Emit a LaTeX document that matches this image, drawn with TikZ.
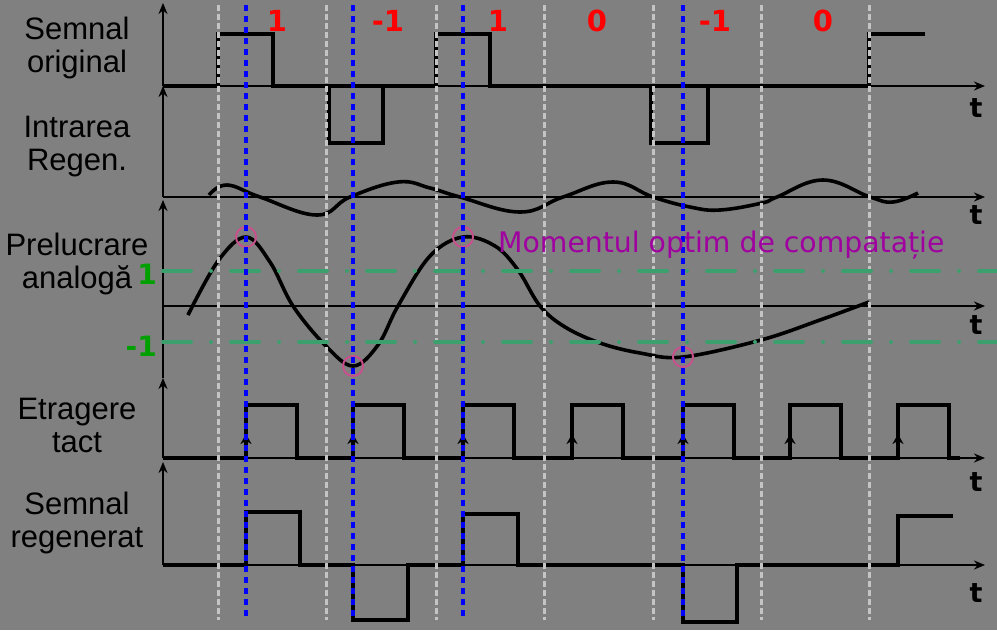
\documentclass[tikz,border=0pt]{standalone}
\usepackage{fontspec}
\setmainfont{Liberation Sans}
\newfontfamily\vera{DejaVu Sans}
\usetikzlibrary{arrows.meta}

\definecolor{bggray}{HTML}{808080}
\definecolor{tickgray}{HTML}{C4C4C4}
\definecolor{levelgreen}{HTML}{3C9F6E}
\definecolor{lvltext}{HTML}{00A000}
\definecolor{optpink}{HTML}{C8508C}
\definecolor{optpurple}{HTML}{A000A0}

\begin{document}
\begin{tikzpicture}[x=1pt,y=-1pt,>={Stealth[length=11pt,width=9pt]},line join=miter]
          \tikzstyle{signal}=[line width=3.6pt,black]
          \tikzstyle{axis}=[line width=2.8pt,black,->]
          \tikzstyle{grid}=[line width=3pt,tickgray,dash pattern=on 6pt off 3pt]
          \tikzstyle{sample}=[line width=3.6pt,blue,dash pattern=on 6pt off 5pt]
          \tikzstyle{level}=[line width=4pt,levelgreen,line cap=round,dash pattern=on 28pt off 20pt on 0pt off 20pt]
          \tikzstyle{signame}=[font=\fontsize{31}{32.5}\selectfont,align=center,anchor=base,text=black]
          \tikzstyle{bitval}=[font=\vera\bfseries\fontsize{29}{29}\selectfont,text=red,anchor=base]
          \tikzstyle{lvlval}=[font=\vera\bfseries\fontsize{28}{28}\selectfont,text=lvltext,anchor=east,inner sep=0pt]
          \tikzstyle{tlabel}=[font=\vera\bfseries\fontsize{27}{27}\selectfont,anchor=base]
          \tikzstyle{optim}=[draw=optpink,line width=2pt,circle,minimum size=20pt,inner sep=0pt]

          \path[use as bounding box,fill=bggray] (0,0) rectangle (997,630);

          % axes
          \foreach \y/\n in {86/1,197/2,306/3,458/4,565/5} {
            \coordinate (o\n) at (163,\y);
            \coordinate (e\n) at (985,\y);
            \draw[axis] (o\n) -- (e\n);
          }
          \foreach \a/\b in {86/3,197/86,378/200,458/378,565/462}
            \draw[axis,line width=2pt] (163,\a) -- (163,\b);

          % signals
          \draw[signal] (163,86) -- (218,86) |- (273,34) |- (436,86) |- (490,34) |- (869,86) |- (925,34);
          \draw[signal] (329,86) |- (383,143) -- (383,86);
          \draw[signal] (651,86) |- (708,143) -- (708,86);
          \draw[signal] plot[smooth,tension=0.7] coordinates {
            (209,195) (227,185) (260,197) (317,215) (350,197) (398,182) (430,188)
            (460,197) (520,212) (563,197) (613,182) (653,197) (690,207) (720,210)
            (762,203) (777,197) (823,180) (870,197) (893,202) (918,193)};
          \draw[signal] plot[smooth,tension=0.6] coordinates {
            (188,315) (218,261) (246,237) (270,262) (293,306) (325,345) (353,366)
            (378,345) (398,306) (430,256) (463,237) (495,246) (518,270) (540,306)
            (565,327) (600,343) (640,353) (683,357) (761,340) (820,320) (869,302)};
          \draw[signal] (163,458) foreach \c in {246,353,463,572,683,790,898} {
            -- (\c,458) -- (\c,405) -- ++(51,0) -- ++(0,53) } -- (960,458);
          \foreach \c in {246,353,463,572,683,790,898}
            \draw[-{Stealth[length=10pt,width=11pt]},line width=1.6pt] (\c,452) -- (\c,434);
          \draw[signal] (163,565) -- (246,565) |- (300,512) |- (353,565) |- (408,620) |- (463,565)
            |- (518,514) |- (683,565) |- (737,622) |- (898,565) |- (953,516);

          % bit borders
          \foreach \x in {218,326,436,544,653,761,869}
            \draw[grid] (\x,5) -- (\x,620);

          % decision levels
          \draw[level] (163,271) -- (997,271);
          \draw[level] (163,342) -- (997,342);
          \node[lvlval] (l1) at (157,274) {1};
          \node[lvlval] (l2) at (157,346) {-1};

          % sampling instants
          \foreach \x/\y/\n in {246/237/1,353/366/2,463/237/3,683/357/4}
            \node[optim] (s\n) at (\x,\y) {};
          \foreach \x in {246,353,463,683}
            \draw[sample] (\x,5) -- (\x,620);
          \node[anchor=base west,font=\vera\fontsize{28.3}{28.3}\selectfont,text=optpurple,inner sep=0pt] (opt) at (498,252) {Momentul optim de compatație};

          % bits
          \node[bitval] (b1) at (277,31) {1};
          \node[bitval] (b2) at (388,31) {-1};
          \node[bitval] (b3) at (498,31) {1};
          \node[bitval] (b4) at (597,31) {0};
          \node[bitval] (b5) at (715,31) {-1};
          \node[bitval] (b6) at (823,31) {0};

          % time labels
          \foreach \y/\n in {117/1,224/2,334/3,491/4,602/5}
            \node[tlabel] (t\n) at (976,\y) {t};

          % row names
          \node[signame] (orig) at (77,72) {Semnal\\original};
          \node[signame] (intr) at (77,170) {Intrarea\\Regen.};
          \node[signame] (prel) at (77,288) {Prelucrare\\analogă};
          \node[signame] (tact) at (77,452) {Etragere\\tact};
          \node[signame] (regn) at (77,547) {Semnal\\regenerat};

        \end{tikzpicture}
\end{document}
